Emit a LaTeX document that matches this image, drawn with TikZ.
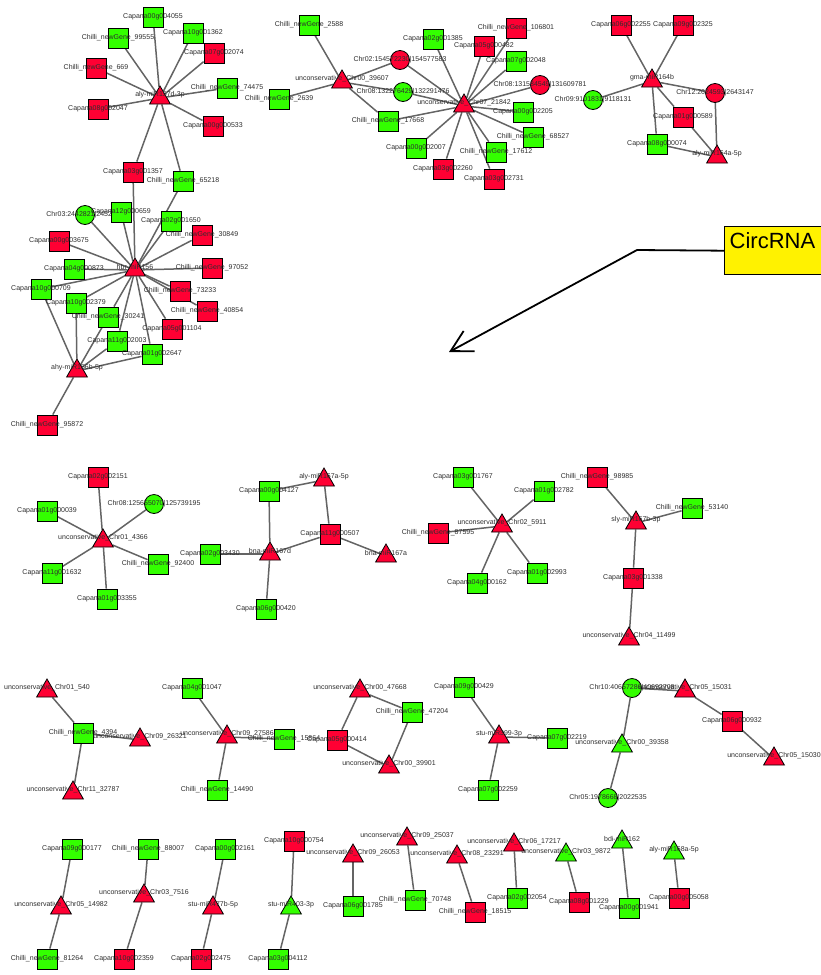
\documentclass[tikz,border=0pt]{standalone}
\usepackage{fontspec}
\setmainfont{Liberation Sans}
\usetikzlibrary{shapes.geometric,backgrounds,arrows.meta}
\definecolor{nodered}{RGB}{255,0,51}
\definecolor{nodegreen}{RGB}{51,255,0}
\definecolor{linkgray}{RGB}{100,100,100}
\definecolor{labelgray}{RGB}{45,45,45}
\begin{document}
\begin{tikzpicture}[x=1pt, y=-1pt, font=\fontsize{7}{8}\selectfont,
  every label/.style={text=labelgray, inner sep=0pt},
  lbl/.style={label={center:{#1}}},
  tlbl/.style={label={[yshift=3pt]center:{#1}}},
  sq/.style={draw, line width=0.8pt, rectangle, minimum size=20pt, inner sep=0pt},
  circ/.style={draw, line width=0.8pt, circle, minimum size=19pt, inner sep=0pt},
  tri/.style={draw, line width=0.8pt, regular polygon, regular polygon sides=3, minimum size=24pt, inner sep=0pt, yshift=-3pt},
  rsq/.style={sq, fill=nodered}, gsq/.style={sq, fill=nodegreen},
  rcirc/.style={circ, fill=nodered}, gcirc/.style={circ, fill=nodegreen},
  rtri/.style={tri, fill=nodered}, gtri/.style={tri, fill=nodegreen},
  link/.style={draw=linkgray, line width=1.5pt},
  notebox/.style={draw, line width=1.4pt, fill=yellow, text=black, font=\fontsize{22}{24}\selectfont, inner xsep=5pt, inner ysep=3pt, text height=19pt, text depth=23pt, text width=110pt, align=left},
  pointer/.style={line width=1.8pt, -{Straight Barb[length=21pt,width=23pt]}}]
\useasboundingbox (0,0) rectangle (820,975);
% aly-miR157d-3p
\node[rtri, tlbl={aly-miR157d-3p}] (m157d) at (160,95) {};
\node[gsq, lbl={Capana00g004055}] (g4055) at (153,17) {};
\node[gsq, lbl={Capana10g001362}] (g1362) at (193,33) {};
\node[rsq, lbl={Capana07g002074}] (g2074) at (214,53) {};
\node[gsq, lbl={Chilli\_newGene\_99555}] (n99555) at (118,38) {};
\node[rsq, lbl={Chilli\_newGene\_669}] (n669) at (96,68) {};
\node[rsq, lbl={Capana08g002047}] (g2047) at (98,109) {};
\node[gsq, lbl={Chilli\_newGene\_74475}] (n74475) at (227,88) {};
\node[rsq, lbl={Capana00g000533}] (g0533) at (213,126) {};
\node[rsq, lbl={Capana03g001357}] (g1357) at (133,172) {};
\node[gsq, lbl={Chilli\_newGene\_65218}] (n65218) at (183,181) {};
% hbr-miR156 and ahy-miR156b-5p
\node[gcirc, lbl={Chr03:2442821|2452463}] (c03) at (85,215) {};
\node[gsq, lbl={Capana12g000659}] (g0659) at (121,212) {};
\node[gsq, lbl={Capana02g001650}] (g1650) at (171,221) {};
\node[rsq, lbl={Capana00g003675}] (g3675) at (59,241) {};
\node[rsq, lbl={Chilli\_newGene\_30849}] (n30849) at (202,235) {};
\node[rtri, tlbl={hbr-miR156}] (m156) at (135,267) {};
\node[rsq, lbl={Chilli\_newGene\_97052}] (n97052) at (212,268) {};
\node[gsq, lbl={Capana04g000873}] (g0873) at (74,269) {};
\node[gsq, lbl={Capana10g000709}] (g0709) at (41,289) {};
\node[gsq, lbl={Capana10g002379}] (g2379) at (76,303) {};
\node[rsq, lbl={Chilli\_newGene\_73233}] (n73233) at (180,291) {};
\node[rsq, lbl={Chilli\_newGene\_40854}] (n40854) at (207,311) {};
\node[gsq, lbl={Chilli\_newGene\_30241}] (n30241) at (108,317) {};
\node[rsq, lbl={Capana05g001104}] (g1104) at (172,329) {};
\node[gsq, lbl={Capana11g002003}] (g2003) at (117,341) {};
\node[gsq, lbl={Capana01g002647}] (g2647) at (152,354) {};
\node[rtri, tlbl={ahy-miR156b-5p}] (m156b) at (77,368) {};
\node[rsq, lbl={Chilli\_newGene\_95872}] (n95872) at (47,425) {};
% unconservative_Chr00_39607 and unconservative_Chr07_21842
\node[rtri, tlbl={unconservative\_Chr00\_39607}] (u39607) at (342,79) {};
\node[gsq, lbl={Chilli\_newGene\_2588}] (n2588) at (309,25) {};
\node[gsq, lbl={Chilli\_newGene\_2639}] (n2639) at (279,99) {};
\node[rcirc, lbl={Chr02:154572230|154577583}] (c02) at (400,60) {};
\node[gcirc, lbl={Chr08:132276429|132291476}] (c08a) at (403,92) {};
\node[gsq, lbl={Chilli\_newGene\_17668}] (n17668) at (388,121) {};
\node[gsq, lbl={Capana02g001385}] (g1385) at (433,39) {};
\node[rsq, lbl={Chilli\_newGene\_106801}] (n106801) at (516,28) {};
\node[rsq, lbl={Capana05g000482}] (g0482) at (484,46) {};
\node[gsq, lbl={Capana07g002048}] (g2048) at (516,61) {};
\node[rcirc, lbl={Chr08:131584549|131609781}] (c08b) at (540,85) {};
\node[rtri, tlbl={unconservative\_Chr07\_21842}] (u21842) at (464,103) {};
\node[gsq, lbl={Capana00g002205}] (g2205) at (523,112) {};
\node[gsq, lbl={Chilli\_newGene\_68527}] (n68527) at (533,137) {};
\node[gsq, lbl={Chilli\_newGene\_17612}] (n17612) at (496,152) {};
\node[gsq, lbl={Capana00g002007}] (g2007) at (416,148) {};
\node[rsq, lbl={Capana03g002260}] (g2260) at (443,169) {};
\node[rsq, lbl={Capana03g002731}] (g2731) at (494,179) {};
% gma-miR164b and aly-miR164a-5p
\node[rsq, lbl={Capana06g002255}] (g2255) at (621,25) {};
\node[rsq, lbl={Capana09g002325}] (g2325) at (683,25) {};
\node[rtri, tlbl={gma-miR164b}] (m164b) at (652,78) {};
\node[gcirc, lbl={Chr09:9101831|9118131}] (c09) at (593,100) {};
\node[rcirc, lbl={Chr12:2624593|2643147}] (c12) at (715,93) {};
\node[rsq, lbl={Capana01g000589}] (g0589) at (683,117) {};
\node[gsq, lbl={Capana08g000074}] (g0074) at (657,144) {};
\node[rtri, tlbl={aly-miR164a-5p}] (m164a) at (717,154) {};
% second row
\node[rsq, lbl={Capana02g002151}] (g2151) at (98,477) {};
\node[gcirc, lbl={Chr08:125655070|125739195}] (c08c) at (154,504) {};
\node[gsq, lbl={Capana01g000039}] (g0039) at (47,511) {};
\node[rtri, tlbl={unconservative\_Chr01\_4366}] (u4366) at (103,538) {};
\node[gsq, lbl={Chilli\_newGene\_92400}] (n92400) at (158,564) {};
\node[gsq, lbl={Capana11g001632}] (g1632) at (52,573) {};
\node[gsq, lbl={Capana01g003355}] (g3355) at (107,599) {};
\node[gsq, lbl={Capana00g004127}] (g4127) at (269,491) {};
\node[rtri, tlbl={aly-miR167a-5p}] (m167a5p) at (324,477) {};
\node[rsq, lbl={Capana11g000507}] (g0507) at (330,534) {};
\node[gsq, lbl={Capana02g003430}] (g3430) at (210,554) {};
\node[rtri, tlbl={bna-miR167d}] (m167d) at (270,551) {};
\node[rtri, tlbl={bna-miR167a}] (m167a) at (386,553) {};
\node[gsq, lbl={Capana06g000420}] (g0420) at (266,609) {};
\node[gsq, lbl={Capana03g001767}] (g1767) at (463,477) {};
\node[gsq, lbl={Capana01g002782}] (g2782) at (544,491) {};
\node[rtri, tlbl={unconservative\_Chr02\_5911}] (u5911) at (502,523) {};
\node[rsq, lbl={Chilli\_newGene\_87595}] (n87595) at (438,533) {};
\node[gsq, lbl={Capana04g000162}] (g0162) at (477,583) {};
\node[gsq, lbl={Capana01g002993}] (g2993) at (537,573) {};
\node[rsq, lbl={Chilli\_newGene\_98985}] (n98985) at (597,477) {};
\node[gsq, lbl={Chilli\_newGene\_53140}] (n53140) at (692,508) {};
\node[rtri, tlbl={sly-miR167b-3p}] (m167b) at (636,520) {};
\node[rsq, lbl={Capana03g001338}] (g1338) at (633,578) {};
\node[rtri, tlbl={unconservative\_Chr04\_11499}] (u11499) at (629,636) {};
% third row
\node[rtri, tlbl={unconservative\_Chr01\_540}] (u540) at (47,688) {};
\node[gsq, lbl={Chilli\_newGene\_4394}] (n4394) at (83,733) {};
\node[rtri, tlbl={unconservative\_Chr09\_26321}] (u26321) at (140,737) {};
\node[rtri, tlbl={unconservative\_Chr11\_32787}] (u32787) at (73,790) {};
\node[gsq, lbl={Capana04g001047}] (g1047) at (192,688) {};
\node[rtri, tlbl={unconservative\_Chr09\_27586}] (u27586) at (227,734) {};
\node[gsq, lbl={Chilli\_newGene\_15864}] (n15864) at (284,739) {};
\node[gsq, lbl={Chilli\_newGene\_14490}] (n14490) at (217,790) {};
\node[rtri, tlbl={unconservative\_Chr00\_47668}] (u47668) at (360,688) {};
\node[rsq, lbl={Capana05g000414}] (g0414) at (337,740) {};
\node[gsq, lbl={Chilli\_newGene\_47204}] (n47204) at (412,712) {};
\node[rtri, tlbl={unconservative\_Chr00\_39901}] (u39901) at (389,764) {};
\node[gsq, lbl={Capana09g000429}] (g0429) at (464,687) {};
\node[rtri, tlbl={stu-miR399-3p}] (m399) at (499,734) {};
\node[gsq, lbl={Capana07g002219}] (g2219) at (557,738) {};
\node[gsq, lbl={Capana07g002259}] (g2259) at (488,790) {};
\node[gcirc, lbl={Chr10:40657286|40692708}] (c10) at (632,688) {};
\node[rtri, tlbl={unconservative\_Chr05\_15031}] (u15031) at (685,688) {};
\node[gtri, tlbl={unconservative\_Chr00\_39358}] (u39358) at (622,743) {};
\node[gcirc, lbl={Chr05:1978668|2022535}] (c05) at (608,798) {};
\node[rsq, lbl={Capana06g000932}] (g0932) at (732,721) {};
\node[rtri, tlbl={unconservative\_Chr05\_15030}] (u15030) at (774,756) {};
% fourth row
\node[gsq, lbl={Capana09g000177}] (g0177) at (72,849) {};
\node[rtri, tlbl={unconservative\_Chr05\_14982}] (u14982) at (61,905) {};
\node[gsq, lbl={Chilli\_newGene\_81264}] (n81264) at (47,959) {};
\node[gsq, lbl={Chilli\_newGene\_88007}] (n88007) at (148,849) {};
\node[rtri, tlbl={unconservative\_Chr03\_7516}] (u7516) at (144,893) {};
\node[rsq, lbl={Capana10g002359}] (g2359) at (124,959) {};
\node[gsq, lbl={Capana00g002161}] (g2161) at (225,849) {};
\node[rtri, tlbl={stu-miR477b-5p}] (m477b) at (213,905) {};
\node[rsq, lbl={Capana02g002475}] (g2475) at (201,959) {};
\node[rsq, lbl={Capana10g000754}] (g0754) at (294,841) {};
\node[gtri, tlbl={stu-miR403-3p}] (m403) at (291,905) {};
\node[gsq, lbl={Capana03g004112}] (g4112) at (278,959) {};
\node[rtri, tlbl={unconservative\_Chr09\_26053}] (u26053) at (353,853) {};
\node[gsq, lbl={Capana06g001785}] (g1785) at (353,906) {};
\node[rtri, tlbl={unconservative\_Chr09\_25037}] (u25037) at (407,836) {};
\node[gsq, lbl={Chilli\_newGene\_70748}] (n70748) at (415,900) {};
\node[rtri, tlbl={unconservative\_Chr08\_23291}] (u23291) at (457,854) {};
\node[rsq, lbl={Chilli\_newGene\_18515}] (n18515) at (475,912) {};
\node[rtri, tlbl={unconservative\_Chr06\_17217}] (u17217) at (514,842) {};
\node[gsq, lbl={Capana02g002054}] (g2054) at (517,898) {};
\node[gtri, tlbl={unconservative\_Chr03\_9872}] (u9872) at (566,852) {};
\node[rsq, lbl={Capana08g001229}] (g1229) at (579,902) {};
\node[gtri, tlbl={bdi-miR162}] (m162) at (622,839) {};
\node[gsq, lbl={Capana00g001941}] (g1941) at (629,908) {};
\node[gtri, tlbl={aly-miR168a-5p}] (m168a) at (674,850) {};
\node[rsq, lbl={Capana00g005058}] (g5058) at (679,898) {};
% callout
\node[notebox, anchor=north west] (circrna) at (724,226) {CircRNA};
\coordinate (bend) at (637,250);
\coordinate (tip) at (449,352);
\draw[pointer] (circrna.west) -- (bend) -- (tip);
\begin{scope}[on background layer]
\draw[link] (m157d) -- (g4055);
\draw[link] (m157d) -- (g1362);
\draw[link] (m157d) -- (g2074);
\draw[link] (m157d) -- (n99555);
\draw[link] (m157d) -- (n669);
\draw[link] (m157d) -- (g2047);
\draw[link] (m157d) -- (n74475);
\draw[link] (m157d) -- (g0533);
\draw[link] (m157d) -- (g1357);
\draw[link] (m157d) -- (n65218);
\draw[link] (m156) -- (g1357);
\draw[link] (m156) -- (n65218);
\draw[link] (m156) -- (c03);
\draw[link] (m156) -- (g0659);
\draw[link] (m156) -- (g1650);
\draw[link] (m156) -- (g3675);
\draw[link] (m156) -- (n30849);
\draw[link] (m156) -- (n97052);
\draw[link] (m156) -- (g0873);
\draw[link] (m156) -- (g0709);
\draw[link] (m156) -- (g2379);
\draw[link] (m156) -- (n73233);
\draw[link] (m156) -- (n40854);
\draw[link] (m156) -- (n30241);
\draw[link] (m156) -- (g1104);
\draw[link] (m156) -- (g2003);
\draw[link] (m156) -- (g2647);
\draw[link] (m156b) -- (g0709);
\draw[link] (m156b) -- (g2379);
\draw[link] (m156b) -- (n30241);
\draw[link] (m156b) -- (g2003);
\draw[link] (m156b) -- (g2647);
\draw[link] (m156b) -- (n95872);
\draw[link] (u39607) -- (n2588);
\draw[link] (u39607) -- (n2639);
\draw[link] (u39607) -- (c02);
\draw[link] (u39607) -- (c08a);
\draw[link] (u39607) -- (n17668);
\draw[link] (u21842) -- (c02);
\draw[link] (u21842) -- (c08a);
\draw[link] (u21842) -- (n17668);
\draw[link] (u21842) -- (g1385);
\draw[link] (u21842) -- (n106801);
\draw[link] (u21842) -- (g0482);
\draw[link] (u21842) -- (g2048);
\draw[link] (u21842) -- (c08b);
\draw[link] (u21842) -- (g2205);
\draw[link] (u21842) -- (n68527);
\draw[link] (u21842) -- (n17612);
\draw[link] (u21842) -- (g2007);
\draw[link] (u21842) -- (g2260);
\draw[link] (u21842) -- (g2731);
\draw[link] (m164b) -- (g2255);
\draw[link] (m164b) -- (g2325);
\draw[link] (m164b) -- (c09);
\draw[link] (m164b) -- (c12);
\draw[link] (m164b) -- (g0589);
\draw[link] (m164b) -- (g0074);
\draw[link] (m164a) -- (c12);
\draw[link] (m164a) -- (g0589);
\draw[link] (m164a) -- (g0074);
\draw[link] (u4366) -- (g2151);
\draw[link] (u4366) -- (c08c);
\draw[link] (u4366) -- (g0039);
\draw[link] (u4366) -- (n92400);
\draw[link] (u4366) -- (g1632);
\draw[link] (u4366) -- (g3355);
\draw[link] (g4127) -- (m167d);
\draw[link] (g4127) -- (m167a5p);
\draw[link] (m167a5p) -- (g0507);
\draw[link] (g0507) -- (m167d);
\draw[link] (g0507) -- (m167a);
\draw[link] (g3430) -- (m167d);
\draw[link] (g0420) -- (m167d);
\draw[link] (u5911) -- (g1767);
\draw[link] (u5911) -- (g2782);
\draw[link] (u5911) -- (n87595);
\draw[link] (u5911) -- (g0162);
\draw[link] (u5911) -- (g2993);
\draw[link] (n98985) -- (m167b);
\draw[link] (n53140) -- (m167b);
\draw[link] (m167b) -- (g1338);
\draw[link] (g1338) -- (u11499);
\draw[link] (u540) -- (n4394);
\draw[link] (n4394) -- (u26321);
\draw[link] (n4394) -- (u32787);
\draw[link] (g1047) -- (u27586);
\draw[link] (u27586) -- (n15864);
\draw[link] (u27586) -- (n14490);
\draw[link] (g0414) -- (u47668);
\draw[link] (u47668) -- (n47204);
\draw[link] (n47204) -- (u39901);
\draw[link] (g0414) -- (u39901);
\draw[link] (g0429) -- (m399);
\draw[link] (m399) -- (g2219);
\draw[link] (m399) -- (g2259);
\draw[link] (c10) -- (u39358);
\draw[link] (u39358) -- (c05);
\draw[link] (c10) -- (u15031);
\draw[link] (u15031) -- (g0932);
\draw[link] (g0932) -- (u15030);
\draw[link] (g0177) -- (u14982);
\draw[link] (u14982) -- (n81264);
\draw[link] (n88007) -- (u7516);
\draw[link] (u7516) -- (g2359);
\draw[link] (g2161) -- (m477b);
\draw[link] (m477b) -- (g2475);
\draw[link] (g0754) -- (m403);
\draw[link] (m403) -- (g4112);
\draw[link] (u26053) -- (g1785);
\draw[link] (u25037) -- (n70748);
\draw[link] (u23291) -- (n18515);
\draw[link] (u17217) -- (g2054);
\draw[link] (u9872) -- (g1229);
\draw[link] (m162) -- (g1941);
\draw[link] (m168a) -- (g5058);
\end{scope}
\end{tikzpicture}
\end{document}
